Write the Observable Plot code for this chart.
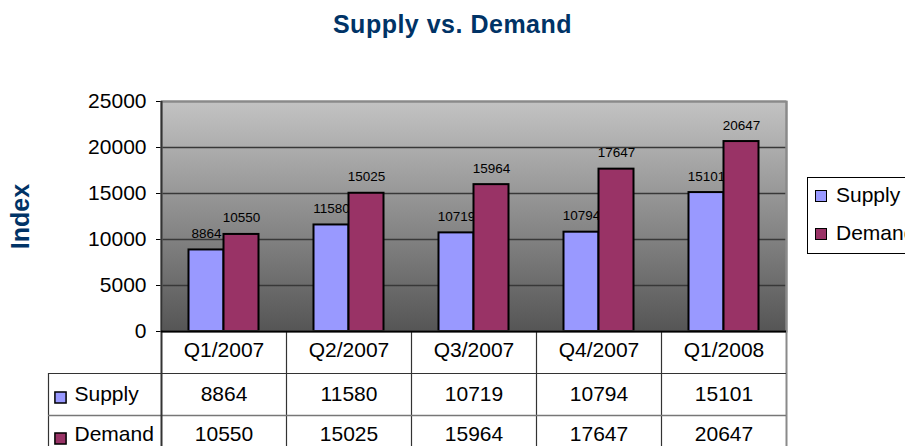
<!DOCTYPE html>
<html>
<head>
<meta charset="utf-8">
<script src="https://cdn.jsdelivr.net/npm/d3@7"></script>
<script src="https://cdn.jsdelivr.net/npm/@observablehq/plot@0.6"></script>
<style>
  body { margin: 0; background: #fff; font-family: "Liberation Sans", Arial, sans-serif; }
  #wrap { position: relative; width: 905px; height: 446px; overflow: hidden; }
  #chart { position: absolute; left: 0; top: 0; }
  #title { position: absolute; left: 0; top: 12px; width: 905px; text-align: center;
           font-size: 25px; line-height: 25px; font-weight: bold; color: #003366; letter-spacing: 0.5px; }
  #legend { position: absolute; left: 807px; top: 177px; width: 130px; height: 75px;
            border: 1px solid #000; background: #fff; }
  .sw { position: absolute; left: 7px; width: 10px; height: 10px; border: 1.5px solid #000; }
  .lt { position: absolute; left: 28px; font-size: 21px; line-height: 21px; color: #000; white-space: nowrap; }
</style>
</head>
<body>
<div id="wrap">
  <div id="chart"></div>
  <div id="title"></div>
  <div id="legend"></div>
</div>
<script>
// ---- data ----
const categories = ["Q1/2007", "Q2/2007", "Q3/2007", "Q4/2007", "Q1/2008"];
const supply = [8864, 11580, 10719, 10794, 15101];
const demand = [10550, 15025, 15964, 17647, 20647];
const seriesNames = ["Supply", "Demand"];
const seriesColors = ["#9999ff", "#993366"];
const yTicks = [0, 5000, 10000, 15000, 20000, 25000];
const yDomain = [0, 25000];
const titleText = "Supply vs. Demand";
const yLabel = "Index";

const rows = categories.map((c, i) => ({cat: c, supply: supply[i], demand: demand[i]}));

// ---- layout ----
const W = 905, H = 446;
const mL = 161, mR = 119, mT = 101, mB = 115;
const plotH = H - mT - mB;
const bw = (W - mL - mR) / categories.length;
const barW = 35;
const rowH = 42;
const labelCol = 113;

document.getElementById("title").textContent = titleText;

const bgDefs = () => {
  const defs = d3.create("svg:defs");
  const g = defs.append("linearGradient").attr("id", "bgGrad")
    .attr("x1", 0).attr("y1", 0).attr("x2", 0).attr("y2", 1);
  g.append("stop").attr("offset", "0%").attr("stop-color", "#c3c3c3");
  g.append("stop").attr("offset", "100%").attr("stop-color", "#555555");
  return defs.node();
};

const tableText = (data, opts) => Plot.text(data, Object.assign({frameAnchor: "bottom", lineAnchor: "middle",
  fontSize: 21, fill: "#000"}, opts));

const chart = Plot.plot({
  width: W, height: H,
  marginLeft: mL, marginRight: mR, marginTop: mT, marginBottom: mB,
  style: {fontFamily: "Liberation Sans, Arial, sans-serif", fontSize: "21px", color: "#000", background: "transparent", overflow: "visible"},
  x: {domain: categories, padding: 0, axis: null},
  y: {domain: yDomain, ticks: yTicks, tickFormat: d => String(d), tickSize: 5, tickPadding: 10, label: null},
  marks: [
    bgDefs,
    Plot.frame({fill: "url(#bgGrad)"}),
    Plot.ruleY(yTicks.filter(t => t > yDomain[0] && t < yDomain[1]), {stroke: "#383838", strokeWidth: 1.3}),
    Plot.barY(rows, {x: "cat", y: "supply", fill: seriesColors[0], stroke: "#000", strokeWidth: 2,
      insetLeft: bw / 2 - barW, insetRight: bw / 2}),
    Plot.text(rows, {x: "cat", y: "supply", text: d => String(d.supply), dx: -barW / 2, dy: -12,
      lineAnchor: "bottom", fontSize: 13.5, fill: "#000"}),
    Plot.barY(rows, {x: "cat", y: "demand", fill: seriesColors[1], stroke: "#000", strokeWidth: 2,
      insetLeft: bw / 2, insetRight: bw / 2 - barW}),
    Plot.text(rows, {x: "cat", y: "demand", text: d => String(d.demand), dx: barW / 2, dy: -12,
      lineAnchor: "bottom", fontSize: 13.5, fill: "#000"}),
    // plot border (top / right gray)
    Plot.frame({stroke: "#8a8a8a", strokeWidth: 2}),
    Plot.ruleY([yDomain[1]], {stroke: "#8a8a8a", strokeWidth: 2}),
    // table grid lines
    Plot.ruleX(categories.slice(1), {x: d => d, dx: -bw / 2, insetTop: plotH, insetBottom: -mB, stroke: "#333", strokeWidth: 1.2}),
    Plot.ruleX([categories[categories.length - 1]], {x: d => d, dx: bw / 2, insetBottom: -mB, stroke: "#8a8a8a", strokeWidth: 2}),
    Plot.ruleX([categories[0]], {x: d => d, dx: -bw / 2 - labelCol, insetTop: plotH + rowH, insetBottom: -mB, stroke: "#333", strokeWidth: 1.2}),
    Plot.ruleY([yDomain[0]], {dy: rowH, insetLeft: -labelCol, stroke: "#333", strokeWidth: 1.2}),
    Plot.ruleY([yDomain[0]], {dy: 2 * rowH, insetLeft: -labelCol, stroke: "#777", strokeWidth: 1.5}),
    // left axis line & baseline
    Plot.ruleX([categories[0]], {x: d => d, dx: -bw / 2, insetBottom: -mB, stroke: "#333", strokeWidth: 2}),
    Plot.ruleY([yDomain[0]], {stroke: "#000", strokeWidth: 2}),
    // table text
    tableText(categories, {x: d => d, text: d => d, dy: 19}),
    tableText(rows, {x: "cat", text: d => String(d.supply), dy: 63}),
    tableText(rows, {x: "cat", text: d => String(d.demand), dy: 103}),
    tableText([seriesNames[0]], {x: () => categories[0], text: d => d, dx: -bw / 2 - labelCol + 26, textAnchor: "start", dy: 63}),
    tableText([seriesNames[1]], {x: () => categories[0], text: d => d, dx: -bw / 2 - labelCol + 26, textAnchor: "start", dy: 103}),
    Plot.dot([seriesNames[0]], {x: () => categories[0], dx: -bw / 2 - labelCol + 12, frameAnchor: "bottom", dy: 66,
      symbol: "square", r: 6.3, fill: seriesColors[0], stroke: "#000", strokeWidth: 1.5}),
    Plot.dot([seriesNames[1]], {x: () => categories[0], dx: -bw / 2 - labelCol + 12, frameAnchor: "bottom", dy: 107,
      symbol: "square", r: 6.3, fill: seriesColors[1], stroke: "#000", strokeWidth: 1.5}),
    // y-axis title
    Plot.text([yLabel], {text: d => d, frameAnchor: "left", textAnchor: "middle", lineAnchor: "middle",
      dx: -140.5, rotate: -90, fontSize: 25, fontWeight: "bold", fill: "#003366"})
  ]
});
document.getElementById("chart").appendChild(chart);

// legend
const legend = d3.select("#legend");
const swTops = [12, 50], txtTops = [6, 44];
seriesNames.forEach((name, i) => {
  legend.append("div").attr("class", "sw").style("top", swTops[i] + "px").style("background", seriesColors[i]);
  legend.append("div").attr("class", "lt").style("top", txtTops[i] + "px").text(name);
});
</script>
</body>
</html>
